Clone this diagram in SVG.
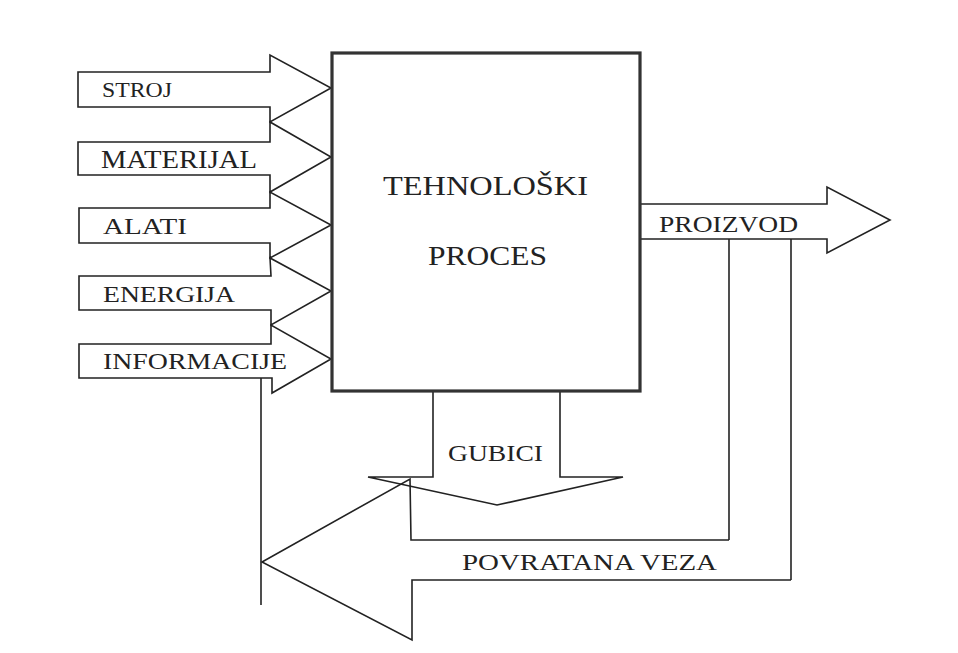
<svg xmlns="http://www.w3.org/2000/svg" width="958" height="653" viewBox="0 0 958 653">
<style>
.ln{fill:none;stroke:#222;stroke-width:1.6;stroke-linejoin:miter}
.box{fill:#fff;stroke:#333;stroke-width:3.2}
.t{font-family:"Liberation Serif","Times New Roman",serif;fill:#222}
</style>
<rect width="958" height="653" fill="#fff"/>
<g id="connectors">
<polyline class="ln" points="640,204 827,204 827,187 890,220 827,253 827,239 640,239"/>
<line class="ln" x1="729" y1="239" x2="729" y2="540"/>
<line class="ln" x1="791" y1="239" x2="791" y2="580"/>
<polyline class="ln" points="729,540 411,540 410,479 262,562 412,640 412,580 791,580"/>
<line class="ln" x1="261" y1="378" x2="261" y2="605"/>
<polyline class="ln" points="433,391 433,477 368,477 497,505 623,477 560,477 560,391"/>
</g>
<g id="stroj">
<polygon class="ln" points="78,72 270,72 270,55 331,88 270,122 270,107 78,107"/>
<text class="t" x="102" y="97" font-size="21" textLength="70" lengthAdjust="spacingAndGlyphs">STROJ</text>
</g>
<g id="materijal">
<polygon class="ln" points="78,142 270,142 270,122 331,157 270,192 270,175 78,175"/>
<text class="t" x="101" y="168" font-size="25" textLength="156" lengthAdjust="spacingAndGlyphs">MATERIJAL</text>
</g>
<g id="alati">
<polygon class="ln" points="79,208 270,208 270,192 331,225 270,258 270,243 79,243"/>
<text class="t" x="103" y="234" font-size="24" textLength="84" lengthAdjust="spacingAndGlyphs">ALATI</text>
</g>
<g id="energija">
<polygon class="ln" points="79,276 271,276 270,258 331,291 271,325 271,310 79,310"/>
<text class="t" x="103" y="302" font-size="24" textLength="132" lengthAdjust="spacingAndGlyphs">ENERGIJA</text>
</g>
<g id="informacije">
<polygon class="ln" points="79,344 271,344 271,325 331,359 272,393 272,378 79,378"/>
<text class="t" x="103" y="369" font-size="24" textLength="184" lengthAdjust="spacingAndGlyphs">INFORMACIJE</text>
</g>
<g id="proces">
<rect class="box" x="332" y="53" width="308" height="338"/>
<text class="t" x="383" y="195" font-size="27" textLength="205" lengthAdjust="spacingAndGlyphs">TEHNOLOŠKI</text>
<text class="t" x="428" y="265" font-size="27" textLength="119" lengthAdjust="spacingAndGlyphs">PROCES</text>
</g>
<g id="proizvod">
<text class="t" x="659" y="232" font-size="23" textLength="139" lengthAdjust="spacingAndGlyphs">PROIZVOD</text>
</g>
<g id="gubici">
<text class="t" x="448" y="461" font-size="24" textLength="95" lengthAdjust="spacingAndGlyphs">GUBICI</text>
</g>
<g id="povratna">
<text class="t" x="462" y="570" font-size="24" textLength="255" lengthAdjust="spacingAndGlyphs">POVRATANA VEZA</text>
</g>
</svg>
